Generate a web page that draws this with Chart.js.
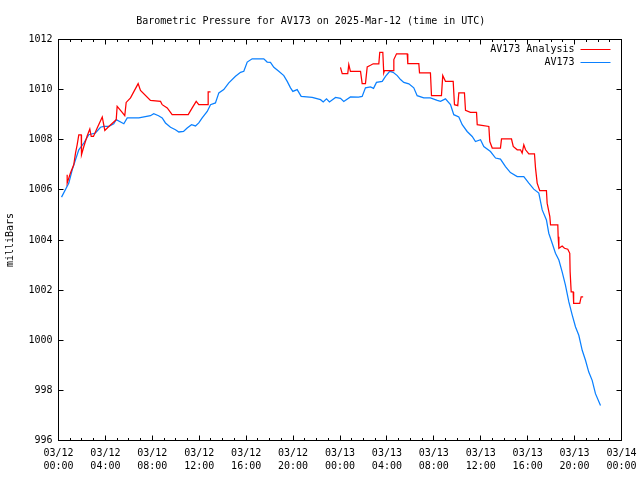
<!DOCTYPE html>
<html>
<head>
<meta charset="utf-8">
<script src="https://cdn.jsdelivr.net/npm/chart.js@4"></script>
<style>body{margin:0;background:#fff}</style>
</head>
<body>
<canvas id="baro" width="640" height="480"></canvas>
<script>
// time axis: hours after 2025-03-12 00:00 UTC
let stationHours = [0.26, 0.88, 1.17, 1.45, 1.73, 2.16, 2.58, 3.15, 3.58, 3.86, 4.29, 4.71, 4.92, 5.57, 5.86, 6.85, 7.84, 8.12, 8.53, 8.84,
  9.12, 9.55, 9.97, 10.26, 10.66, 10.97, 11.34, 11.68, 11.96, 12.25, 12.68, 12.96, 13.38, 13.67, 14.09, 14.52, 15.09, 15.52, 15.80, 16.09,
  16.51, 17.50, 17.79, 18.07, 18.36, 18.78, 19.21, 19.50, 19.78, 19.98, 20.35, 20.69, 21.63, 22.34, 22.57, 22.85, 23.10, 23.62, 24.04, 24.32,
  24.89, 25.58, 25.89, 26.17, 26.60, 26.86, 27.11, 27.60, 27.88, 28.24, 28.53, 28.88, 29.16, 29.44, 29.87, 30.29, 30.58, 31.14, 31.71, 32.29,
  32.57, 32.99, 33.42, 33.70, 34.13, 34.42, 34.84, 35.27, 35.55, 35.98, 36.26, 36.83, 37.26, 37.68, 38.11, 38.53, 39.11, 39.67, 40.10, 40.52,
  40.95, 41.24, 41.60, 41.80, 42.09, 42.37, 42.66, 42.94, 43.22, 43.51, 43.80, 44.08, 44.36, 44.65, 44.93, 45.21, 45.50, 45.78, 46.21];
let stationMb = [1005.71, 1006.27, 1006.8, 1007.2, 1007.6, 1007.87, 1008.2, 1008.27, 1008.5, 1008.53, 1008.53, 1008.64, 1008.8, 1008.64, 1008.87, 1008.87, 1008.96, 1009.04, 1008.96, 1008.87,
  1008.67, 1008.5, 1008.4, 1008.31, 1008.33, 1008.47, 1008.6, 1008.55, 1008.67, 1008.87, 1009.13, 1009.4, 1009.47, 1009.87, 1010.0, 1010.27, 1010.53, 1010.69, 1010.73, 1011.1,
  1011.23, 1011.23, 1011.1, 1011.09, 1010.89, 1010.73, 1010.56, 1010.33, 1010.07, 1009.93, 1010.0, 1009.73, 1009.69, 1009.6, 1009.51, 1009.63, 1009.51, 1009.69, 1009.65, 1009.53,
  1009.71, 1009.7, 1009.73, 1010.07, 1010.11, 1010.05, 1010.29, 1010.33, 1010.53, 1010.73, 1010.69, 1010.56, 1010.4, 1010.29, 1010.23, 1010.07, 1009.76, 1009.67, 1009.67, 1009.57,
  1009.53, 1009.63, 1009.4, 1009.0, 1008.91, 1008.6, 1008.33, 1008.13, 1007.93, 1008.0, 1007.73, 1007.53, 1007.27, 1007.23, 1006.93, 1006.69, 1006.53, 1006.53, 1006.27, 1006.03,
  1005.87, 1005.2, 1004.8, 1004.27, 1003.87, 1003.47, 1003.2, 1002.73, 1002.2, 1001.53, 1001.0, 1000.53, 1000.2, 999.6, 999.2, 998.73, 998.4, 997.87, 997.4];

let analysisHours = [0.74, 0.74, 1.02, 1.30, 1.45, 1.59, 1.73, 1.94, 1.96, 2.16, 2.45, 2.67, 2.79, 2.98, 3.30, 3.73, 3.95, 4.29, 4.92, 5.00,
  5.43, 5.65, 5.77, 6.14, 6.79, 6.99, 7.84, 8.70, 8.84, 9.27, 9.69, 11.06, 11.40, 11.74, 11.96, 12.76, 12.76, 12.96, 18.0,
  24.04, 24.19, 24.66, 24.75, 24.89, 25.75, 25.89, 26.17, 26.32, 26.60, 26.83, 27.31, 27.39, 27.65, 27.73, 27.79, 28.53, 28.59, 28.82, 29.73,
  29.78, 30.72, 30.78, 31.71, 31.80, 32.65, 32.76, 32.99, 33.65, 33.76, 34.04, 34.13, 34.61, 34.70, 35.12, 35.64, 35.70, 36.69, 36.77, 36.98,
  37.68, 37.77, 38.62, 38.77, 39.11, 39.39, 39.53, 39.67, 39.82, 40.10, 40.58, 40.67, 40.81, 41.03, 41.60, 41.66, 41.89, 41.95, 42.57, 42.60,
  42.66, 42.94, 43.14, 43.42, 43.59, 43.62, 43.71, 43.88, 43.92, 44.44, 44.56, 44.73];
let analysisMb = [1006.6, 1006.27, 1006.67, 1007.0, 1007.47, 1007.8, 1008.19, 1008.19, 1007.4, 1007.73, 1008.16, 1008.43, 1008.13, 1008.13, 1008.47, 1008.91, 1008.37, 1008.53, 1008.8, 1009.33,
  1009.09, 1008.96, 1009.49, 1009.67, 1010.24, 1009.97, 1009.57, 1009.53, 1009.4, 1009.27, 1009.0, 1009.0, 1009.27, 1009.53, 1009.4, 1009.4, 1009.91, 1009.91, null,
  1010.89, 1010.64, 1010.64, 1011.0, 1010.73, 1010.73, 1010.24, 1010.24, 1010.91, 1010.97, 1011.03, 1011.03, 1011.49, 1011.49, 1010.67, 1010.76, 1010.76, 1011.2, 1011.43, 1011.43,
  1011.04, 1011.04, 1010.67, 1010.67, 1009.76, 1009.76, 1010.56, 1010.33, 1010.33, 1009.4, 1009.36, 1009.87, 1009.87, 1009.17, 1009.09, 1009.09, 1008.6, 1008.53, 1007.93, 1007.67,
  1007.67, 1008.03, 1008.03, 1007.73, 1007.6, 1007.6, 1007.47, 1007.8, 1007.6, 1007.44, 1007.44, 1006.87, 1006.27, 1005.97, 1005.97, 1005.47, 1004.93, 1004.6, 1004.6, 1004.13,
  1003.67, 1003.76, 1003.67, 1003.63, 1003.47, 1002.73, 1001.93, 1001.93, 1001.47, 1001.47, 1001.73, 1001.73];

let xTickLabels = [
  ['03/12', '00:00'], ['03/12', '04:00'], ['03/12', '08:00'], ['03/12', '12:00'], ['03/12', '16:00'], ['03/12', '20:00'],
  ['03/13', '00:00'], ['03/13', '04:00'], ['03/13', '08:00'], ['03/13', '12:00'], ['03/13', '16:00'], ['03/13', '20:00'],
  ['03/14', '00:00']
];

const mono = "'DejaVu Sans Mono', 'Liberation Mono', monospace";

function points(hours, values) {
  return hours.map((h, i) => ({ x: h, y: values[i] }));
}

// gnuplot-like border, inward ticks and legend
const gnuFrame = {
  id: 'gnuFrame',
  afterDraw(chart) {
    const ctx = chart.ctx;
    const a = chart.chartArea;
    const x = chart.scales.x, y = chart.scales.y;
    ctx.save();
    ctx.strokeStyle = '#000';
    ctx.lineWidth = 1;
    ctx.beginPath();
    for (let h = 0; h <= 48; h++) {
      let px = Math.floor(x.getPixelForValue(h)) + 0.5;
      let len = h % 4 === 0 ? 5 : 2.5;
      ctx.moveTo(px, a.bottom); ctx.lineTo(px, a.bottom - len);
      ctx.moveTo(px, a.top); ctx.lineTo(px, a.top + len);
    }
    for (let v = 996; v <= 1012; v += 2) {
      let py = Math.floor(y.getPixelForValue(v)) + 0.5;
      ctx.moveTo(a.left, py); ctx.lineTo(a.left + 5, py);
      ctx.moveTo(a.right, py); ctx.lineTo(a.right - 5, py);
    }
    ctx.stroke();
    ctx.strokeRect(a.left, a.top, a.right - a.left, a.bottom - a.top);

    ctx.font = '10px ' + mono;
    ctx.textAlign = 'right';
    ctx.textBaseline = 'middle';
    chart.data.datasets.forEach((ds, i) => {
      let ly = a.top + 10 + i * 13.3;
      ctx.fillStyle = '#000';
      ctx.fillText(ds.label, a.right - 47, ly);
      ctx.strokeStyle = ds.borderColor;
      ctx.beginPath();
      ctx.moveTo(a.right - 41, Math.floor(ly) + 0.5);
      ctx.lineTo(a.right - 11, Math.floor(ly) + 0.5);
      ctx.stroke();
    });
    ctx.restore();
  }
};

new Chart(document.getElementById('baro'), {
  type: 'line',
  data: {
    datasets: [{
      label: 'AV173 Analysis',
      data: points(analysisHours, analysisMb),
      borderColor: '#ff0000',
      borderWidth: 1.25,
      pointRadius: 0,
      spanGaps: false
    }, {
      label: 'AV173',
      data: points(stationHours, stationMb),
      borderColor: '#0a80ff',
      borderWidth: 1.25,
      pointRadius: 0
    }]
  },
  options: {
    responsive: false,
    animation: false,
    layout: { padding: { left: 0, right: 18.5, top: 0, bottom: 0 } },
    plugins: {
      legend: { display: false },
      tooltip: { enabled: false },
      title: {
        display: true,
        text: 'Barometric Pressure for AV173 on 2025-Mar-12 (time in UTC)',
        color: '#000',
        font: { family: mono, size: 10, weight: 'normal' },
        padding: { top: 15, bottom: 12.5 }
      }
    },
    scales: {
      x: {
        type: 'linear',
        min: 0,
        max: 48,
        grid: { display: false, drawTicks: false },
        border: { display: false },
        ticks: {
          stepSize: 4,
          maxRotation: 0,
          autoSkip: false,
          padding: 6,
          color: '#000',
          font: { family: mono, size: 10, lineHeight: 1.34 },
          callback: v => xTickLabels[Math.round(v / 4)]
        },
        afterFit: s => { s.height = 39.5; s.paddingLeft = 0; s.paddingRight = 0; }
      },
      y: {
        min: 996,
        max: 1012,
        grid: { display: false, drawTicks: false },
        border: { display: false },
        title: {
          display: true,
          text: 'milliBars',
          color: '#000',
          font: { family: mono, size: 10 },
          padding: { top: 4, bottom: 0 }
        },
        ticks: {
          stepSize: 2,
          padding: 6,
          color: '#000',
          font: { family: mono, size: 10 },
          callback: v => String(v)
        },
        afterFit: s => { s.width = 58.5; }
      }
    }
  },
  plugins: [gnuFrame]
});
</script>
</body>
</html>
